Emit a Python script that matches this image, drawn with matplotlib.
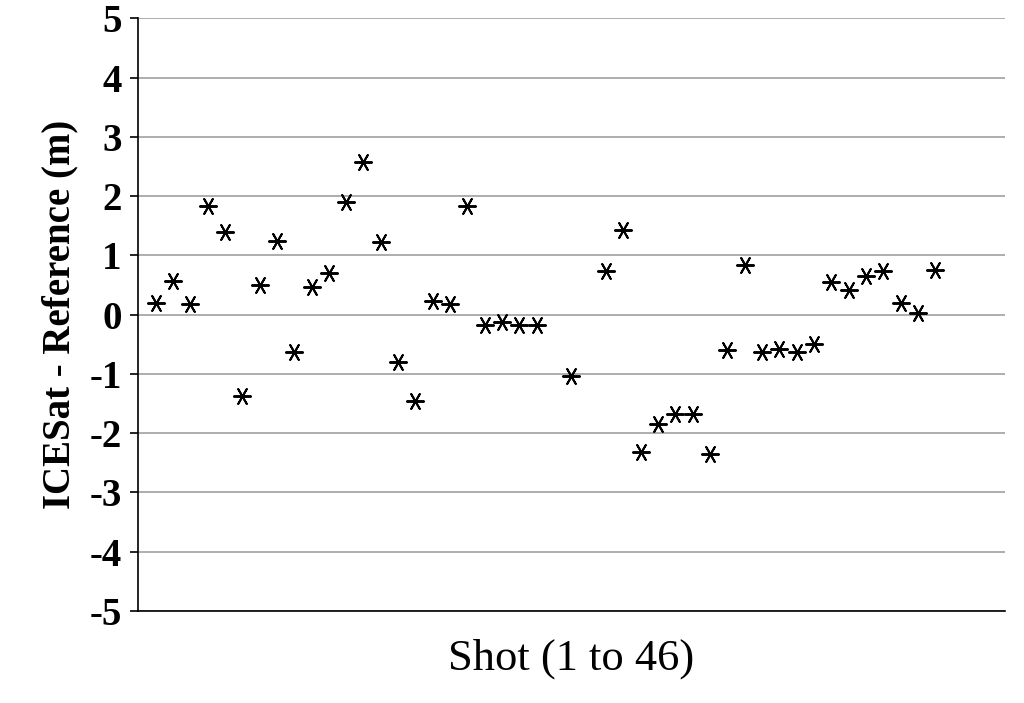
import matplotlib
matplotlib.use("Agg")
import matplotlib.pyplot as plt

shots = [1,2,3,4,5,6,7,8,9,10,11,12,13,14,15,16,17,18,19,20,21,22,23,25,27,28,29,30,31,32,33,34,35,36,37,38,39,40,41,42,43,44,45,46]
diff = [0.2,0.57,0.18,1.83,1.4,-1.38,0.5,1.25,-0.63,0.47,0.7,1.9,2.57,1.23,-0.8,-1.45,0.23,0.18,1.83,-0.17,-0.13,-0.18,-0.18,-1.03,0.73,1.42,-2.32,-1.85,-1.68,-1.67,-2.35,-0.6,0.83,-0.63,-0.58,-0.63,-0.5,0.55,0.42,0.65,0.73,0.2,0.03,0.75]
yticks = list(range(-5, 6))

plt.rcParams['font.family'] = ['Liberation Serif', 'DejaVu Serif']
fig = plt.figure(figsize=(10.24, 7.03), dpi=100)
ax = fig.add_axes([0.135, 0.131, 0.846, 0.843])
ax.scatter(shots, diff, marker=(6, 2, 90), s=150, c='black', linewidths=1.4, zorder=3)
ax.set_xlim(0, 50)
ax.set_ylim(-5, 5)
ax.set_yticks(yticks)
ax.set_yticklabels([str(t) for t in yticks], fontsize=28, fontweight='bold')
ax.set_xticks([])
ax.yaxis.grid(True, color='#a0a0a0', linewidth=1.2)
ax.set_axisbelow(True)
for s in ['top', 'right']:
    ax.spines[s].set_visible(False)
for s in ['left', 'bottom']:
    ax.spines[s].set_linewidth(1.2)
ax.tick_params(axis='y', direction='out', length=6, width=1.2, pad=6)
ax.set_ylabel('ICESat - Reference (m)', fontsize=28, fontweight='bold', labelpad=8)
ax.set_xlabel('Shot (1 to 46)', fontsize=32, labelpad=20)
fig.savefig('out.png', dpi=100)
